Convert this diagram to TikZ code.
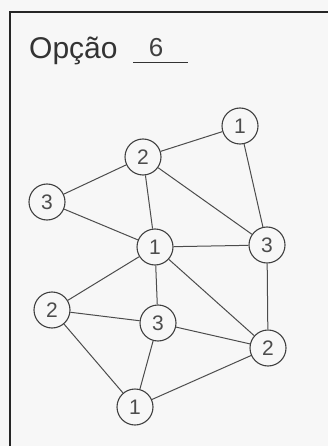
\documentclass[tikz,border=0pt]{standalone}
\usepackage{fontspec}
\setmainfont{Liberation Sans}
\usepackage{tikz}

\begin{document}
\begin{tikzpicture}[x=1pt,y=-1pt,
    vtx/.style={circle,draw=black!75,line width=1.1pt,minimum size=36pt,inner sep=0pt,
      font=\fontsize{21}{21}\selectfont,text=black!70},
    edge/.style={black!70,line width=1pt}]
  \useasboundingbox (0,0) rectangle (328,446);
  \fill[black!3] (0,0) rectangle (328,446);
  % frame
  \draw[black!85,line width=2pt] (10,446) -- (10,12) -- (328,12);
  % title
  \node[anchor=base west,inner sep=0pt,font=\fontsize{30}{30}\selectfont,text=black!80]
    (title) at (29,59) {Opção};
  \coordinate (ulA) at (133,63);
  \coordinate (ulB) at (188,63);
  \draw[black!80,line width=1pt] (ulA) -- (ulB);
  \node[anchor=base,inner sep=0pt,font=\fontsize{26}{26}\selectfont,text=black!75]
    (opt) at (156,57) {6};
  % vertices
  \node[vtx] (b) at (143,157) {2};
  \node[vtx] (a) at (240,126) {1};
  \node[vtx] (c) at (47,202) {3};
  \node[vtx] (d) at (155,247) {1};
  \node[vtx] (e) at (267,245) {3};
  \node[vtx] (f) at (52,310) {2};
  \node[vtx] (g) at (158,323) {3};
  \node[vtx] (h) at (268,348) {2};
  \node[vtx] (k) at (135,407) {1};
  % edges
  \foreach \u/\v in {b/a,b/c,b/d,b/e,a/e,c/d,d/e,d/f,d/g,d/h,e/h,f/g,f/k,g/h,g/k,k/h}
    \draw[edge] (\u) -- (\v);
\end{tikzpicture}
\end{document}
